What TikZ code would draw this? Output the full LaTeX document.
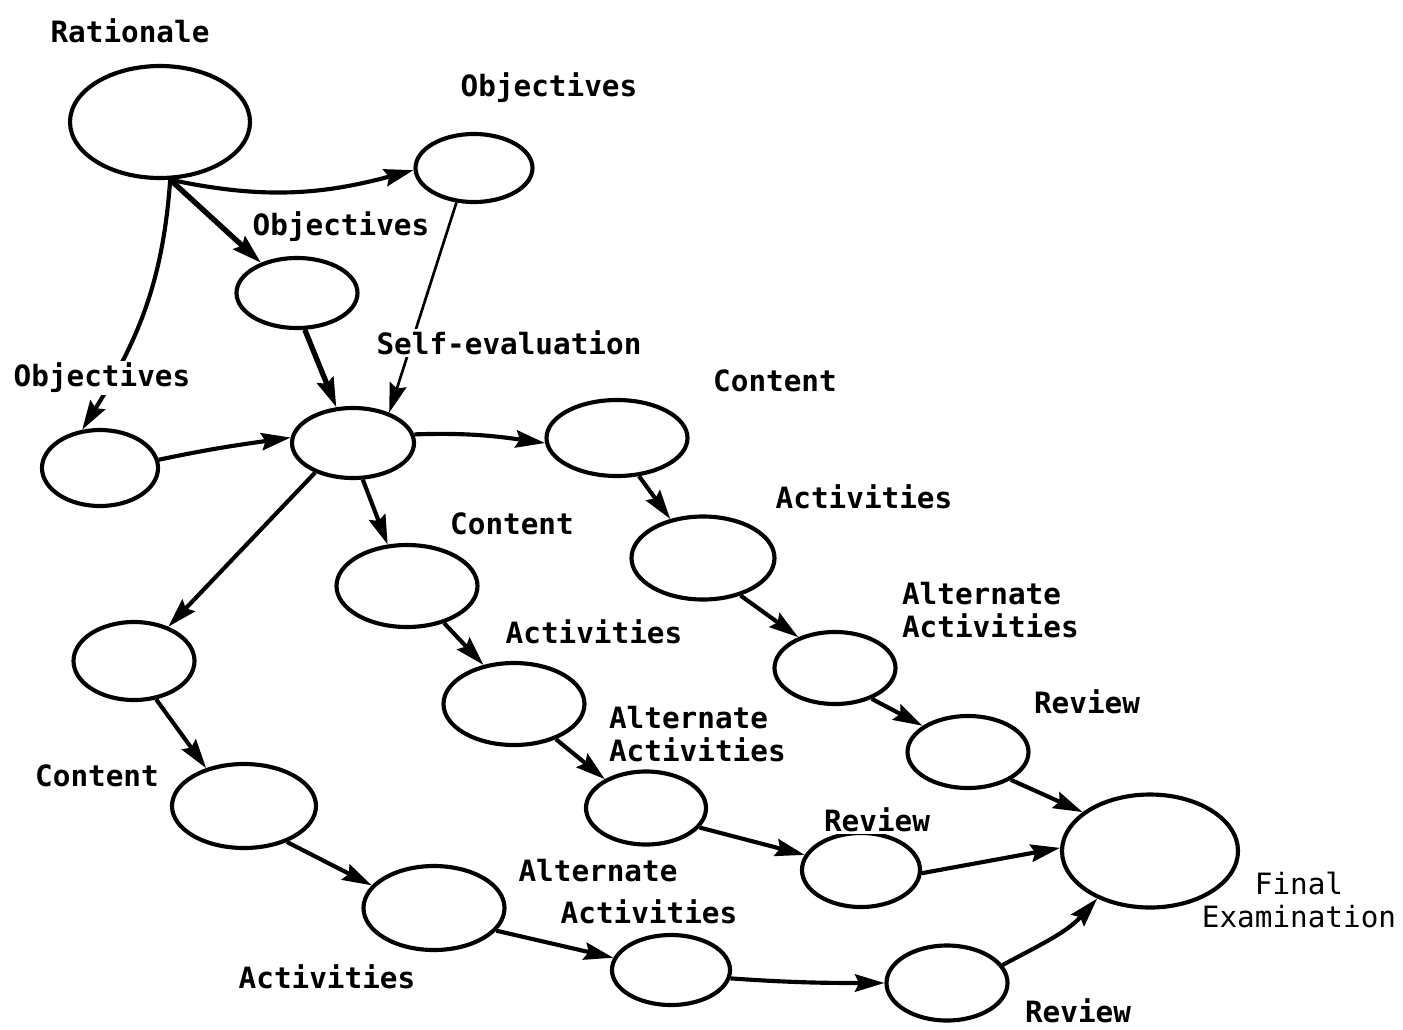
\documentclass[tikz,border=0pt]{standalone}
\usepackage{fontspec}
\setmainfont{DejaVu Sans Mono}
\usetikzlibrary{shapes.geometric,arrows.meta}

\tikzset{every picture/.style={line width=3.1pt}}
\tikzset{
  bub/.style 2 args={draw, ellipse, inner sep=0pt, minimum width=#1*0.75pt, minimum height=#2*0.75pt},
  lbl/.style={fill=white, inner sep=1.5pt, font=\fontsize{22}{25}\selectfont\bfseries},
  arr/.style={-{Stealth[length=22pt,width=13pt,inset=3pt]}},
}

\begin{document}
\begin{tikzpicture}[x=0.75pt,y=0.75pt,yscale=-1]
\useasboundingbox (0,0) rectangle (1403,1029);

%Shape: Ellipse 
\node [bub={180}{112}] (rat) at (160,122) {};
\node [bub={117}{68}] (objt) at (474,168) {};
\node [bub={121}{70}] (objm) at (297,293) {};
\node [bub={116}{76}] (objl) at (100,468) {};
\node [bub={122}{70}] (self) at (353,443) {};
%Shape: Ellipse - upper chain
\node [bub={141}{76}] (cnt1) at (617,438) {};
\node [bub={143}{83}] (act1) at (703,558) {};
\node [bub={121}{72}] (alt1) at (835,668) {};
\node [bub={121}{72}] (rev1) at (968,752) {};
%Shape: Ellipse - middle chain
\node [bub={141}{82}] (cnt2) at (407,586) {};
\node [bub={141}{82}] (act2) at (514,704) {};
\node [bub={120}{73}] (alt2) at (646,808) {};
\node [bub={118}{74}] (rev2) at (861,870) {};
%Shape: Ellipse - lower chain
\node [bub={121}{78}] (low0) at (134,661) {};
\node [bub={144}{84}] (cnt3) at (244,806) {};
\node [bub={141}{84}] (act3) at (434,908) {};
\node [bub={118}{70}] (alt3) at (671,970) {};
\node [bub={121}{75}] (rev3) at (947,983) {};
%Shape: Ellipse 
\node [bub={176}{113}] (fin) at (1150,851) {};

%Curve Lines 
\draw [arr] (rat.-80) to [out=12,in=165] (objt.182);
\draw [arr, line width=4pt] (rat.-80) -- (objm.140);
\draw [arr] (rat.-80) to [out=94,in=-58] (objl.115);
\draw [arr, line width=2pt] (objt.243) -- (self.40);
\draw [arr, line width=4pt] (objm.-78) -- (self.115);
\draw [arr] (objl.8) to [out=-12,in=172] (self.175);
%Curve Lines 
\draw [arr] (self.8) to [out=-2,in=188] (cnt1.184);
\draw [arr] (cnt1.-60) -- (act1.130);
\draw [arr] (act1.-45) -- (alt1.140);
\draw [arr] (alt1.-40) -- (rev1.150);
\draw [arr] (rev1.-33) -- (fin.150);
%Curve Lines 
\draw [arr] (self.-75) -- (cnt2.115);
\draw [arr] (cnt2.-45) -- (act2.128);
\draw [arr] (act2.-40) -- (alt2.145);
\draw [arr] (alt2.-20) -- (rev2.165);
\draw [arr] (rev2.-3) -- (fin.178);
%Curve Lines 
\draw [arr] (self.218) -- (low0.45);
\draw [arr] (low0.-60) -- (cnt3.135);
\draw [arr] (cnt3.-40) -- (act3.160);
\draw [arr] (act3.-20) -- (alt3.168);
\draw [arr] (alt3.-8) to [out=4,in=180] (rev3.180);
\draw [arr] (rev3.18) to [out=-28,in=132] (fin.222);

% Text Node
\node [lbl] (tRat) at (130,31) {Rationale};
\node [lbl] (tObjt) at (549,88) {Objectives};
\node [lbl] (tObjm) at (341,227) {Objectives};
\node [lbl] (tObjl) at (102,378) {Objectives};
\node [lbl] (tSelf) at (509,343) {Self-evaluation};
% Text Node
\node [lbl] (tCnt1) at (775,381) {Content};
\node [lbl] (tAct1) at (864,497) {Activities};
\node [lbl, anchor=west, align=left] (tAlt1) at (898,610) {Alternate\\Activities};
\node [lbl] (tRev1) at (1087,702) {Review};
% Text Node
\node [lbl] (tCnt2) at (512,524) {Content};
\node [lbl] (tAct2) at (594,632) {Activities};
\node [lbl, anchor=west, align=left] (tAlt2) at (605,734) {Alternate\\Activities};
\node [lbl] (tRev2) at (877,820) {Review};
% Text Node
\node [lbl] (tCnt3) at (97,776) {Content};
\node [lbl] (tAct3) at (327,977) {Activities};
\node [lbl] (tAlt3a) at (598,871) {Alternate};
\node [lbl] (tAlt3b) at (649,912) {Activities};
\node [lbl] (tRev3) at (1078,1011) {Review};
% Text Node
\node [lbl, fill=none, font=\fontsize{22}{25}\selectfont, align=center] (tFin) at (1299,900) {Final\\Examination};

\end{tikzpicture}
\end{document}
